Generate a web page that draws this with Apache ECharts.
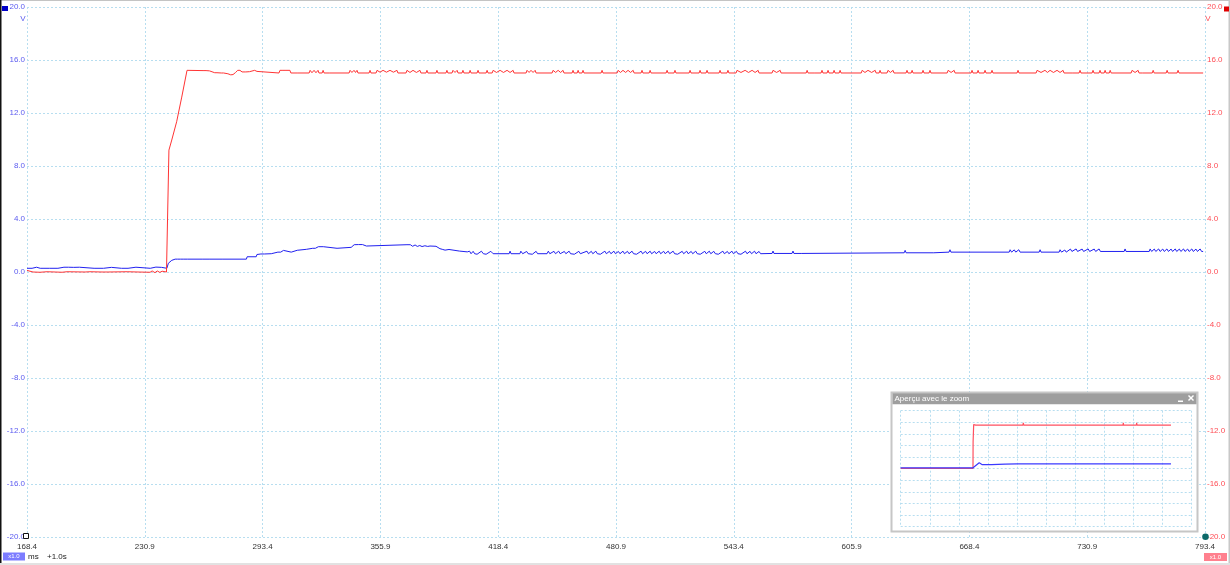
<!DOCTYPE html>
<html>
<head>
<meta charset="utf-8">
<script src="https://cdn.jsdelivr.net/npm/echarts@6/dist/echarts.min.js"></script>
<style>
html,body{margin:0;padding:0;background:#fff;}
#chart{width:1230px;height:565px;}
</style>
</head>
<body>
<div id="chart"></div>
<script>
// ---- data ----
const xTickLabels = ['168.4','230.9','293.4','355.9','418.4','480.9','543.4','605.9','668.4','730.9','793.4'];
const viewStartMs = 168.4;
const viewSpanMs = 625;
const viewOffsetMs = 1000;   // "+1.0s"

// channel 2 (red), [time ms, volts]
const redTrace = [
[168.4,0.12],[171.6,0.0],[172.6,0.12],[175.3,-0.02],[176.2,0.12],[179.0,0.02],[180.0,0.12],[183.3,0.0],[184.2,0.12],[187.0,-0.02],[187.9,0.12],[189.6,0.02],[190.5,0.12],[199.2,0.0],[200.1,0.12],[201.8,0.02],[202.7,0.12],[208.2,0.0],[209.1,0.12],[211.4,0.0],[212.3,0.12],[221.5,0.02],[222.4,0.12],[227.3,0.0],[228.2,0.12],[233.7,-0.02],[234.8,0.08],[236.3,-0.05],[237.5,0.08],[238.9,-0.03],[240.1,0.06],[241.1,-0.05],[242.4,0.0],
[243.7,9.2],[245.2,9.96],[247.8,11.34],[250.5,13.2],[253.3,15.22],
[261.8,15.2],[262.5,15.1],[263.4,15.2],[264.3,15.08],[265.2,15.18],[266.2,15.04],[268.0,15.04],[268.6,15.18],[269.2,15.04],[271.5,15.02],[272.1,15.16],[272.7,15.02],[275.0,14.96],[276.5,14.88],[277.7,14.9],[279.0,15.05],[280.2,15.22],[281.4,15.22],[282.5,15.1],[283.5,15.22],[284.5,15.1],[285.5,15.22],[286.5,15.12],[287.4,15.22],[289.2,15.22],[290.4,15.14],[291.4,15.02],
[302.1,15.02],[302.6,15.22],[303.4,15.08],[304.2,15.22],[305.0,15.08],[305.8,15.22],[306.8,15.1],[307.9,15.22],[308.4,15.02],
[311.7,15.02],[312.2,14.88],[312.7,15.02],
[318.1,15.02],[318.6,15.22],[319.6,15.04],[320.7,15.22],[321.7,15.04],[322.8,15.22],[323.3,15.02],[325.0,15.02],[325.5,15.22],[326.0,15.02],
[328.7,15.02],[329.2,14.88],[329.7,15.02],
[339.3,15.02],[339.8,15.22],[340.8,15.06],[341.9,15.22],[342.7,15.06],[343.5,15.22],[344.0,15.02],
[349.9,15.02],[350.4,15.22],[350.9,15.02],[353.6,15.02],[354.1,15.22],[355.7,15.08],[357.3,15.22],[359.1,15.08],[361.0,15.22],[362.8,15.08],[364.7,15.22],[365.2,15.02],
[369.5,15.02],[370.0,15.22],[371.6,15.06],[373.2,15.22],[375.0,15.06],[376.9,15.22],[377.4,15.02],
[380.1,15.02],[380.6,15.22],[381.1,15.02],[385.4,15.02],[385.9,15.22],[386.4,15.02],[390.7,15.02],[391.2,15.22],[391.7,15.02],
[393.9,15.02],[394.4,15.22],[395.5,15.06],[396.6,15.22],[397.1,15.02],
[399.2,15.02],[399.7,15.22],[400.2,15.02],[403.0,15.02],[403.5,15.22],[404.0,15.02],[407.2,15.02],[407.7,15.22],[408.2,15.02],[412.0,15.02],[412.5,15.22],[413.0,15.02],
[415.2,15.02],[415.7,15.22],[417.5,15.06],[419.4,15.22],[421.2,15.06],[423.1,15.22],[424.7,15.06],[426.3,15.22],[426.8,15.02],
[433.2,15.02],[433.7,15.22],[434.8,15.06],[435.8,15.22],[436.9,15.06],[438.0,15.22],[438.5,15.02],
[447.0,15.02],[447.5,15.22],[448.9,15.06],[450.2,15.22],[451.5,15.06],[452.8,15.22],[453.3,15.02],
[457.6,15.02],[458.1,15.22],[458.6,15.02],[460.3,15.02],[460.8,15.22],[461.3,15.02],[462.9,15.02],[463.4,15.22],[463.9,15.02],
[473.0,15.02],[473.5,15.22],[474.0,15.02],
[481.5,15.02],[482.0,15.22],[483.3,15.06],[484.6,15.22],[486.0,15.06],[487.3,15.22],[488.6,15.06],[490.0,15.22],[490.5,15.02],
[494.2,15.02],[494.7,15.22],[495.2,15.02],[498.5,15.02],[499.0,15.22],[499.5,15.02],
[507.5,15.02],[508.0,15.22],[508.5,15.02],[510.1,15.02],[510.6,14.88],[511.1,15.02],[511.7,15.02],[512.2,15.22],[512.7,15.02],
[519.7,15.02],[520.2,15.22],[520.7,15.02],
[525.0,15.02],[525.5,15.22],[526.0,15.02],[528.7,15.02],[529.2,15.22],[529.7,15.02],
[535.6,15.02],[536.1,15.22],[536.6,15.02],[539.8,15.02],[540.3,15.22],[540.8,15.02],
[544.6,15.02],[545.1,15.22],[547.2,15.06],[549.4,15.22],[551.2,15.06],[553.1,15.22],[554.7,15.06],[556.3,15.22],[556.8,15.02],
[563.7,15.02],[564.2,15.22],[566.1,15.06],[568.0,15.22],[568.5,15.02],
[581.8,15.02],[582.3,15.22],[582.8,15.02],[586.0,15.02],[586.5,14.88],[587.0,15.02],
[589.7,15.02],[590.2,15.22],[590.7,15.02],[592.9,15.02],[593.4,15.22],[593.9,15.02],[596.1,15.02],[596.6,15.22],[597.1,15.02],[599.3,15.02],[599.8,15.22],[600.3,15.02],
[611.0,15.02],[611.5,15.22],[613.0,15.06],[614.6,15.22],[616.5,15.06],[618.4,15.22],[618.9,15.02],
[620.5,15.02],[621.0,15.22],[621.5,15.02],
[624.7,15.02],[625.2,15.22],[626.5,15.06],[627.9,15.22],[628.4,15.02],[629.0,14.88],[629.5,15.02],
[634.8,15.02],[635.3,15.22],[635.8,15.02],[637.5,15.02],[638.0,15.22],[638.5,15.02],
[643.3,15.02],[643.8,15.22],[644.3,15.02],[647.0,15.02],[647.5,15.22],[648.0,15.02],
[656.6,15.02],[657.1,15.22],[658.7,15.06],[660.3,15.22],[660.8,15.02],[662.9,15.02],[663.4,14.88],[663.9,15.02],
[669.3,15.02],[669.8,15.22],[670.3,15.02],[672.5,15.02],[673.0,15.22],[673.5,15.02],[676.2,15.02],[676.7,15.22],[677.2,15.02],[679.9,15.02],[680.4,15.22],[680.9,15.02],
[693.7,15.02],[694.2,15.22],[694.7,15.02],
[703.8,15.02],[704.3,15.22],[706.4,15.06],[708.5,15.22],[709.8,15.06],[711.2,15.22],[713.0,15.06],[714.9,15.22],[716.5,15.06],[718.1,15.22],[718.6,15.02],
[722.9,15.02],[723.4,14.88],[723.9,15.02],[726.6,15.02],[727.1,15.22],[727.6,15.02],
[733.5,15.02],[734.0,15.22],[734.5,15.02],[737.2,15.02],[737.7,15.22],[738.2,15.02],[739.9,15.02],[740.4,15.22],[740.9,15.02],[742.6,15.02],[743.1,15.22],[743.6,15.02],
[754.2,15.02],[754.7,15.22],[756.3,15.06],[757.9,15.22],[758.4,15.02],[760.1,15.02],[760.6,14.88],[761.1,15.02],
[765.4,15.02],[765.9,15.22],[766.4,15.02],[772.8,15.02],[773.3,15.22],[773.8,15.02],[778.6,15.02],[779.1,15.22],[779.6,15.02],
[792.4,15.02]
];

// channel 1 (blue), [time ms, volts]
const blueTrace = [
[168.4,0.28],[171.1,0.28],[171.6,0.38],[172.1,0.28],[173.5,0.36],[174.4,0.24],[175.4,0.28],[176.4,0.37],[176.9,0.28],[180.2,0.28],[180.7,0.36],[181.2,0.28],[184.8,0.28],[185.3,0.37],[185.8,0.28],[188.0,0.36],[188.8,0.28],[190.5,0.36],[191.3,0.28],[193.2,0.35],[194.0,0.28],[196.2,0.36],[197.0,0.28],[204.0,0.28],[204.5,0.36],[205.0,0.28],[209.0,0.28],[209.5,0.36],[210.0,0.28],[213.2,0.35],[214.0,0.28],[218.5,0.28],[219.0,0.36],[219.5,0.28],[222.0,0.28],[222.5,0.37],[223.0,0.28],[226.2,0.36],[227.0,0.28],[233.8,0.28],[234.3,0.36],[234.8,0.28],[236.8,0.37],[237.6,0.28],[239.8,0.35],[240.6,0.28],[242.6,0.28],
[243.4,0.66],[245.2,0.88],[246.0,0.97],
[247.0,0.97],[247.5,1.1],[248.2,0.97],[249.0,1.1],[249.8,0.97],[250.8,1.1],[251.6,0.97],[252.6,1.09],[253.4,0.97],[258.6,0.97],[259.1,1.1],[259.6,0.97],[261.3,0.97],[261.8,1.1],[262.3,0.97],[265.0,0.97],[265.5,1.1],[266.0,0.97],[271.9,0.97],[272.4,0.92],[272.9,0.97],[284.8,0.97],
[285.2,1.15],[290.0,1.15],[290.4,1.32],[292.5,1.36],[293.5,1.47],[294.5,1.36],[298.0,1.38],[298.4,1.5],[301.5,1.5],[302.2,1.62],[303.0,1.5],[304.5,1.63],[305.3,1.5],[308.6,1.5],[309.0,1.64],[311.8,1.64],[312.2,1.71],[316.6,1.71],[317.0,1.79],[320.0,1.79],[320.6,1.91],[321.4,1.79],[323.0,1.91],[323.8,1.79],[325.6,1.91],[326.4,1.79],[332.9,1.79],[333.4,1.75],[333.9,1.86],[340.4,1.86],[340.8,1.96],[342.0,2.06],[342.8,1.96],[344.2,2.07],[345.0,1.96],[346.4,2.07],[347.2,1.96],[348.5,1.96],[348.8,2.06],
[370.0,2.06],[371.0,1.96],[371.8,2.06],[373.0,1.94],[374.3,2.04],[375.5,1.93],[376.8,2.0],[378.0,1.92],[379.5,1.98],[381.0,1.93],[382.2,1.96],[385.4,1.94],[385.9,1.79],[387.5,1.76],[389.0,1.7],[390.2,1.65],[391.2,1.61],[392.3,1.7],[393.3,1.6],[397.8,1.58],[398.2,1.53],[402.0,1.52],[402.4,1.38],
[403.2,1.57],[404.0,1.38],[405.1,1.56],[405.9,1.38],[407.2,1.34],[408.2,1.38],[409.5,1.57],[410.5,1.38],[412.0,1.34],[413.0,1.38],[414.5,1.56],[415.7,1.38],
[424.2,1.38],[424.7,1.57],[425.2,1.38],
[429.9,1.38],[430.4,1.57],[431.4,1.38],[433.5,1.55],[434.3,1.38],[436.5,1.34],[437.3,1.38],[438.5,1.56],[439.3,1.38],
[444.3,1.38],[445.0,1.57],[445.8,1.38],[448.0,1.56],[448.8,1.38],[450.5,1.57],[451.3,1.38],[453.5,1.55],[454.3,1.38],[456.0,1.57],[456.8,1.38],[458.8,1.34],[459.6,1.38],[461.2,1.56],[462.0,1.38],
[465.5,1.57],[466.3,1.38],[467.8,1.56],[468.6,1.38],[470.2,1.57],[471.0,1.38],[472.6,1.34],[473.4,1.38],[475.0,1.57],[475.8,1.38],[477.4,1.56],[478.2,1.38],[479.8,1.57],[480.6,1.38],[482.2,1.55],[483.0,1.38],[484.6,1.57],[485.4,1.38],[487.0,1.56],[487.8,1.38],[489.4,1.57],[490.2,1.38],[491.8,1.34],[492.6,1.38],[494.2,1.57],[495.0,1.38],[496.6,1.56],[497.4,1.38],[499.0,1.57],[499.8,1.38],[501.4,1.55],[502.2,1.38],[503.8,1.57],[504.6,1.38],[506.2,1.56],[507.0,1.38],[508.6,1.57],[509.4,1.38],
[511.2,1.57],[512.0,1.38],[513.6,1.34],[514.4,1.38],[516.0,1.56],[516.8,1.38],[518.4,1.57],[519.2,1.38],[520.8,1.55],[521.6,1.38],[523.2,1.57],[524.0,1.38],[525.6,1.34],[526.4,1.38],[528.0,1.56],[528.8,1.38],[530.4,1.57],[531.2,1.38],[532.8,1.56],[533.6,1.38],[535.2,1.34],[536.0,1.38],[537.6,1.57],[538.4,1.38],[540.0,1.55],[540.8,1.38],[542.4,1.57],[543.2,1.38],[544.8,1.56],[545.6,1.38],[547.2,1.34],[548.0,1.38],[549.6,1.57],[550.4,1.38],[552.0,1.56],[552.8,1.38],[554.4,1.57],[555.2,1.38],[556.8,1.55],[557.6,1.38],
[563.7,1.4],[564.2,1.58],[564.7,1.4],[574.3,1.4],[574.8,1.58],[575.3,1.4],
[579.5,1.4],[580.0,1.45],[633.8,1.45],[634.3,1.63],[634.8,1.45],[649.5,1.45],[650.0,1.5],[657.6,1.5],[658.1,1.68],[658.6,1.5],[689.5,1.5],[690.0,1.68],[690.8,1.5],[692.2,1.67],[693.0,1.5],[694.6,1.68],[695.3,1.5],[705.4,1.5],[705.9,1.68],[706.4,1.5],[716.0,1.5],[716.5,1.68],[717.3,1.5],[719.0,1.66],[719.8,1.5],[720.5,1.55],[722.0,1.73],[722.8,1.55],[725.0,1.74],[725.8,1.55],[728.2,1.73],[729.0,1.55],[731.4,1.74],[732.2,1.55],[734.6,1.73],[735.4,1.55],[737.2,1.74],[737.9,1.55],[750.5,1.55],[751.0,1.74],[751.5,1.55],[763.8,1.55],[764.3,1.74],[765.1,1.55],[766.5,1.73],[767.3,1.55],[768.8,1.74],[769.6,1.55],[771.0,1.73],[771.8,1.55],[773.2,1.74],[774.0,1.55],[775.4,1.73],[776.2,1.55],[777.6,1.74],[778.4,1.55],[779.8,1.73],[780.6,1.55],[782.0,1.74],[782.8,1.55],[784.2,1.73],[785.0,1.55],[786.4,1.74],[787.2,1.55],[788.6,1.73],[789.4,1.55],[790.8,1.74],[791.6,1.55],[792.4,1.55]
];

// overview ("Aperçu avec le zoom"), absolute time ms
const overviewRed = [[0,0.1],[1242,0.1],[1244,9.2],[1254,15.2],[1290,15.05],[1530,15.05],[1534,15.7],[1538,15.05],[1700,15.05],[1705,15.6],[1710,15.05],[2100,15.05],[2107,15.8],[2114,15.05],[2440,15.05],[2450,15.7],[2460,15.05],[2610,15.05],[2617,15.6],[2624,15.05],[2870,15.05],[2875,15.7],[2880,15.05],[3245,15.05],[3252,15.6],[3259,15.05],[3590,15.05],[3596,15.7],[3602,15.05],[3820,15.05],[3825,15.8],[3830,15.05],[3990,15.05],[3997,15.7],[4004,15.05],[4050,15.05],[4054,15.8],[4060,15.05],[4480,15.05],[4485,15.7],[4490,15.05],[4566,15.05],[4571,15.6],[4576,15.05],[4644,15.05]];
const overviewBlue = [[0,0.3],[1243,0.3],[1246,0.95],[1285,1.0],[1300,1.6],[1349,2.06],[1370,2.06],[1402,1.4],[1560,1.4],[1793,1.58],[2000,1.65],[2100,1.65],[2105,2.2],[2110,1.65],[2300,1.65],[2305,2.1],[2310,1.65],[2480,1.65],[2485,2.2],[2490,1.65],[3885,1.65],[3890,2.1],[3895,1.65],[4644,1.65]];

// ---- chart ----
const GRID_COLOR = '#b7def0';
const RED = '#ff3434';
const BLUE = '#2020f0';
const FONT = 'Liberation Sans';
const dotted = {show:true, lineStyle:{color:GRID_COLOR, type:[2,2], width:1}};
const toView = arr => arr.map(p => [p[0] - viewStartMs, p[1]]);

const chart = echarts.init(document.getElementById('chart'), null, {renderer:'canvas'});
const option = {
  animation:false,
  backgroundColor:'#ffffff',
  textStyle:{fontFamily:FONT},
  grid:[
    {left:27, right:25, top:7, bottom:28, show:false},
    {left:900.7, right:38.3, top:410.7, bottom:38.3, show:false, z:10}
  ],
  xAxis:[
    {type:'value', gridIndex:0, min:0, max:viewSpanMs, interval:62.5,
     axisLine:{show:false}, axisTick:{show:false}, splitLine:dotted,
     axisLabel:{color:'#333', fontSize:8, margin:6, showMinLabel:true, showMaxLabel:true,
       formatter:v => { const i = Math.round(v/62.5); return xTickLabels[i] !== undefined ? xTickLabels[i] : ''; }}},
    {type:'value', gridIndex:1, min:0, max:5000, interval:500, z:10,
     axisLine:{show:false}, axisTick:{show:false}, axisLabel:{show:false}, splitLine:dotted}
  ],
  yAxis:[
    {type:'value', gridIndex:0, position:'left', min:-20, max:20, interval:4,
     axisLine:{show:false}, axisTick:{show:false}, splitLine:dotted,
     axisLabel:{color:'#5b5bf0', fontSize:8, margin:2, showMinLabel:true, showMaxLabel:true, formatter:v => v.toFixed(1)}},
    {type:'value', gridIndex:0, position:'right', min:-20, max:20, interval:4,
     axisLine:{show:false}, axisTick:{show:false}, splitLine:{show:false},
     axisLabel:{color:'#ff4d55', fontSize:8, margin:2, showMinLabel:true, showMaxLabel:true, formatter:v => v.toFixed(1)}},
    {type:'value', gridIndex:1, min:-20, max:20, interval:4, z:10,
     axisLine:{show:false}, axisTick:{show:false}, axisLabel:{show:false}, splitLine:dotted}
  ],
  series:[
    {type:'line', xAxisIndex:0, yAxisIndex:0, data:toView(blueTrace), showSymbol:false, symbol:'none',
     lineStyle:{color:BLUE, width:1}, z:2, silent:true},
    {type:'line', xAxisIndex:0, yAxisIndex:0, data:toView(redTrace), showSymbol:false, symbol:'none',
     lineStyle:{color:RED, width:1}, z:3, silent:true},
    {type:'line', xAxisIndex:1, yAxisIndex:2, data:overviewRed, showSymbol:false, symbol:'none',
     lineStyle:{color:'#ff5060', width:1.2}, z:11, silent:true},
    {type:'line', xAxisIndex:1, yAxisIndex:2, data:overviewBlue, showSymbol:false, symbol:'none',
     lineStyle:{color:'#3a3aff', width:1.2}, z:12, silent:true,
     markArea:{silent:true, itemStyle:{color:'rgba(0,0,0,0)', borderColor:'#a3a3a3', borderWidth:1.5},
       data:[[{xAxis:viewStartMs + viewOffsetMs}, {xAxis:viewStartMs + viewSpanMs + viewOffsetMs}]]}}
  ],
  graphic:[
    // outer frame
    {type:'rect', shape:{x:0, y:0, width:1230, height:1}, style:{fill:'#c4c4c4'}, z:20},
    {type:'rect', shape:{x:0, y:0, width:1.5, height:565}, style:{fill:'#111'}, z:20},
    {type:'rect', shape:{x:1228.5, y:0, width:1.5, height:565}, style:{fill:'#c8c8c8'}, z:20},
    {type:'rect', shape:{x:0, y:563, width:1230, height:2}, style:{fill:'#e2e2e2'}, z:20},
    // channel markers
    {type:'rect', shape:{x:2, y:6, width:6, height:5}, style:{fill:'#0000c8'}, z:20},
    {type:'rect', shape:{x:1224, y:6.5, width:5, height:5}, style:{fill:'#e00000'}, z:20},
    {type:'text', x:23, y:19, style:{text:'V', fill:'#5b5bf0', fontSize:8, fontFamily:FONT, align:'center', verticalAlign:'middle'}, z:20},
    {type:'text', x:1208, y:19, style:{text:'V', fill:'#ff4d55', fontSize:8, fontFamily:FONT, align:'center', verticalAlign:'middle'}, z:20},
    {type:'rect', shape:{x:23.5, y:533.5, width:5, height:5}, style:{fill:'#fff', stroke:'#111', lineWidth:1}, z:20},
    {type:'circle', shape:{cx:1205.5, cy:536.8, r:3.3}, style:{fill:'#0b6a6a'}, z:20},
    // bottom status
    {type:'rect', shape:{x:3, y:552.5, width:22, height:8}, style:{fill:'#7c7cff'}, z:20},
    {type:'text', x:14, y:556.7, style:{text:'x1.0', fill:'#fff', fontSize:6, fontFamily:FONT, align:'center', verticalAlign:'middle'}, z:21},
    {type:'text', x:28, y:556.7, style:{text:'ms', fill:'#222', fontSize:8, fontFamily:FONT, align:'left', verticalAlign:'middle'}, z:21},
    {type:'text', x:47, y:556.7, style:{text:'+1.0s', fill:'#222', fontSize:8, fontFamily:FONT, align:'left', verticalAlign:'middle'}, z:21},
    {type:'rect', shape:{x:1204, y:553, width:23, height:8}, style:{fill:'#ff808e'}, z:20},
    {type:'text', x:1215.5, y:557, style:{text:'x1.0', fill:'#fff', fontSize:6, fontFamily:FONT, align:'center', verticalAlign:'middle'}, z:21},
    // overview window
    {type:'rect', shape:{x:891.5, y:392.5, width:306, height:139}, style:{fill:'#ffffff', stroke:'#c6c6c6', lineWidth:2}, z:5},
    {type:'rect', shape:{x:892.5, y:393.3, width:304, height:11}, style:{fill:'#9e9e9e'}, z:6},
    {type:'text', x:894.5, y:399, style:{text:'Aperçu avec le zoom', fill:'#ffffff', fontSize:8, fontFamily:FONT, align:'left', verticalAlign:'middle'}, z:7},
    {type:'rect', shape:{x:1178, y:400.5, width:5, height:1.5}, style:{fill:'#ffffff'}, z:7},
    {type:'line', shape:{x1:1188.5, y1:395.5, x2:1193.5, y2:400.5}, style:{stroke:'#ffffff', lineWidth:1.4}, z:7},
    {type:'line', shape:{x1:1193.5, y1:395.5, x2:1188.5, y2:400.5}, style:{stroke:'#ffffff', lineWidth:1.4}, z:7}
  ]
};
chart.setOption(option);
</script>
</body>
</html>
